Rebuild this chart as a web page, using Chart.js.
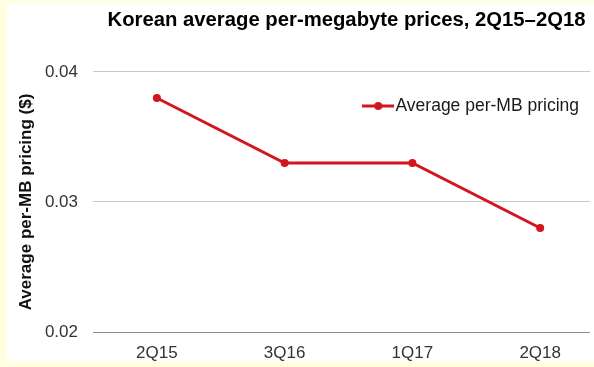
<!DOCTYPE html>
<html><head><meta charset="utf-8">
<script src="https://cdn.jsdelivr.net/npm/chart.js@4"></script>
<style>
html,body{margin:0;padding:0;background:#ffffe0;width:594px;height:367px;overflow:hidden}
#wrap{position:absolute;left:7px;top:3px;width:587px;height:358px;background:#fff}
canvas{display:block}
</style></head><body><div id="wrap"><canvas id="c" width="587" height="358"></canvas></div>
<script>
const categories = ['2Q15', '3Q16', '1Q17', '2Q18'];
const prices = [0.038, 0.033, 0.033, 0.028];
const yTicks = [0.02, 0.03, 0.04];
const seriesName = 'Average per-MB pricing';
const titleText = 'Korean average per-megabyte prices, 2Q15\u20132Q18';
const yTitle = 'Average per-MB pricing ($)';

const RED = '#d4151d';
const FONT = "'Liberation Sans', Arial, sans-serif";

// legend swatch: line with a dot
const sw = document.createElement('canvas');
sw.width = 32; sw.height = 10;
(function(){
  const g = sw.getContext('2d');
  g.strokeStyle = RED; g.lineWidth = 3;
  g.beginPath(); g.moveTo(0, 5); g.lineTo(32, 5); g.stroke();
  g.fillStyle = RED; g.beginPath(); g.arc(16, 5, 4, 0, Math.PI * 2); g.fill();
})();

const placeBoxes = {
  id: 'placeBoxes',
  afterLayout(chart) {
    const ca = chart.chartArea;
    const lg = chart.legend;
    if (lg && lg.legendHitBoxes && lg.legendHitBoxes.length) {
      const pad = lg.options.labels.padding;
      const w = lg.legendHitBoxes[0].width;
      lg.left = ca.right - 11 - w - pad;
      lg.top = ca.top + 14.25;
    }
    if (chart.titleBlock) {
      chart.titleBlock.left += 5;
      chart.titleBlock.right += 5;
    }
  }
};

new Chart(document.getElementById('c'), {
  type: 'line',
  data: {
    datasets: [{
      label: seriesName,
      data: prices.map((v, i) => ({ x: i, y: v })),
      borderColor: RED,
      backgroundColor: RED,
      borderWidth: 3,
      pointRadius: 4,
      pointBorderWidth: 0,
      pointBackgroundColor: RED,
      tension: 0
    }]
  },
  options: {
    responsive: false,
    animation: false,
    devicePixelRatio: 1,
    layout: { padding: 0 },
    plugins: {
      title: {
        display: true,
        text: titleText,
        fullSize: false,
        color: '#000',
        font: { family: FONT, size: 20.3, weight: 'bold' },
        padding: { top: 5, bottom: 39.6 }
      },
      legend: {
        position: 'chartArea',
        align: 'start',
        labels: {
          usePointStyle: true,
          pointStyleWidth: 17,
          padding: 11,
          color: '#1a1a1a',
          font: { family: FONT, size: 17.5 },
          generateLabels(chart) {
            const items = Chart.defaults.plugins.legend.labels.generateLabels(chart);
            items.forEach(it => { it.pointStyle = sw; });
            return items;
          }
        }
      },
      tooltip: { enabled: false }
    },
    scales: {
      x: {
        type: 'linear',
        min: -0.5,
        max: 3.39,
        afterBuildTicks(scale) { scale.ticks = categories.map((c, i) => ({ value: i })); },
        afterFit(scale) { scale.height = 29; },
        grid: { display: false, drawTicks: false },
        border: { display: false },
        ticks: {
          padding: 11,
          color: '#333',
          font: { family: FONT, size: 17 },
          callback: (v) => categories[v] ?? ''
        }
      },
      y: {
        min: yTicks[0],
        max: yTicks[yTicks.length - 1],
        afterBuildTicks(scale) { scale.ticks = yTicks.map(v => ({ value: v })); },
        afterFit(scale) { scale.width = 86; },
        grid: {
          drawTicks: false,
          color: (ctx) => (ctx.tick && ctx.tick.value === yTicks[0]) ? '#8c8c8c' : '#c8c8c8',
          lineWidth: 1
        },
        border: { display: false },
        ticks: {
          padding: 15,
          color: '#333',
          font: { family: FONT, size: 17 },
          callback: (v) => Number(v).toFixed(2)
        },
        title: {
          display: true,
          text: yTitle,
          color: '#111',
          font: { family: FONT, size: 17, weight: 'bold' },
          padding: { top: 9, bottom: 0 }
        }
      }
    }
  },
  plugins: [placeBoxes]
});
</script>
</body></html>
